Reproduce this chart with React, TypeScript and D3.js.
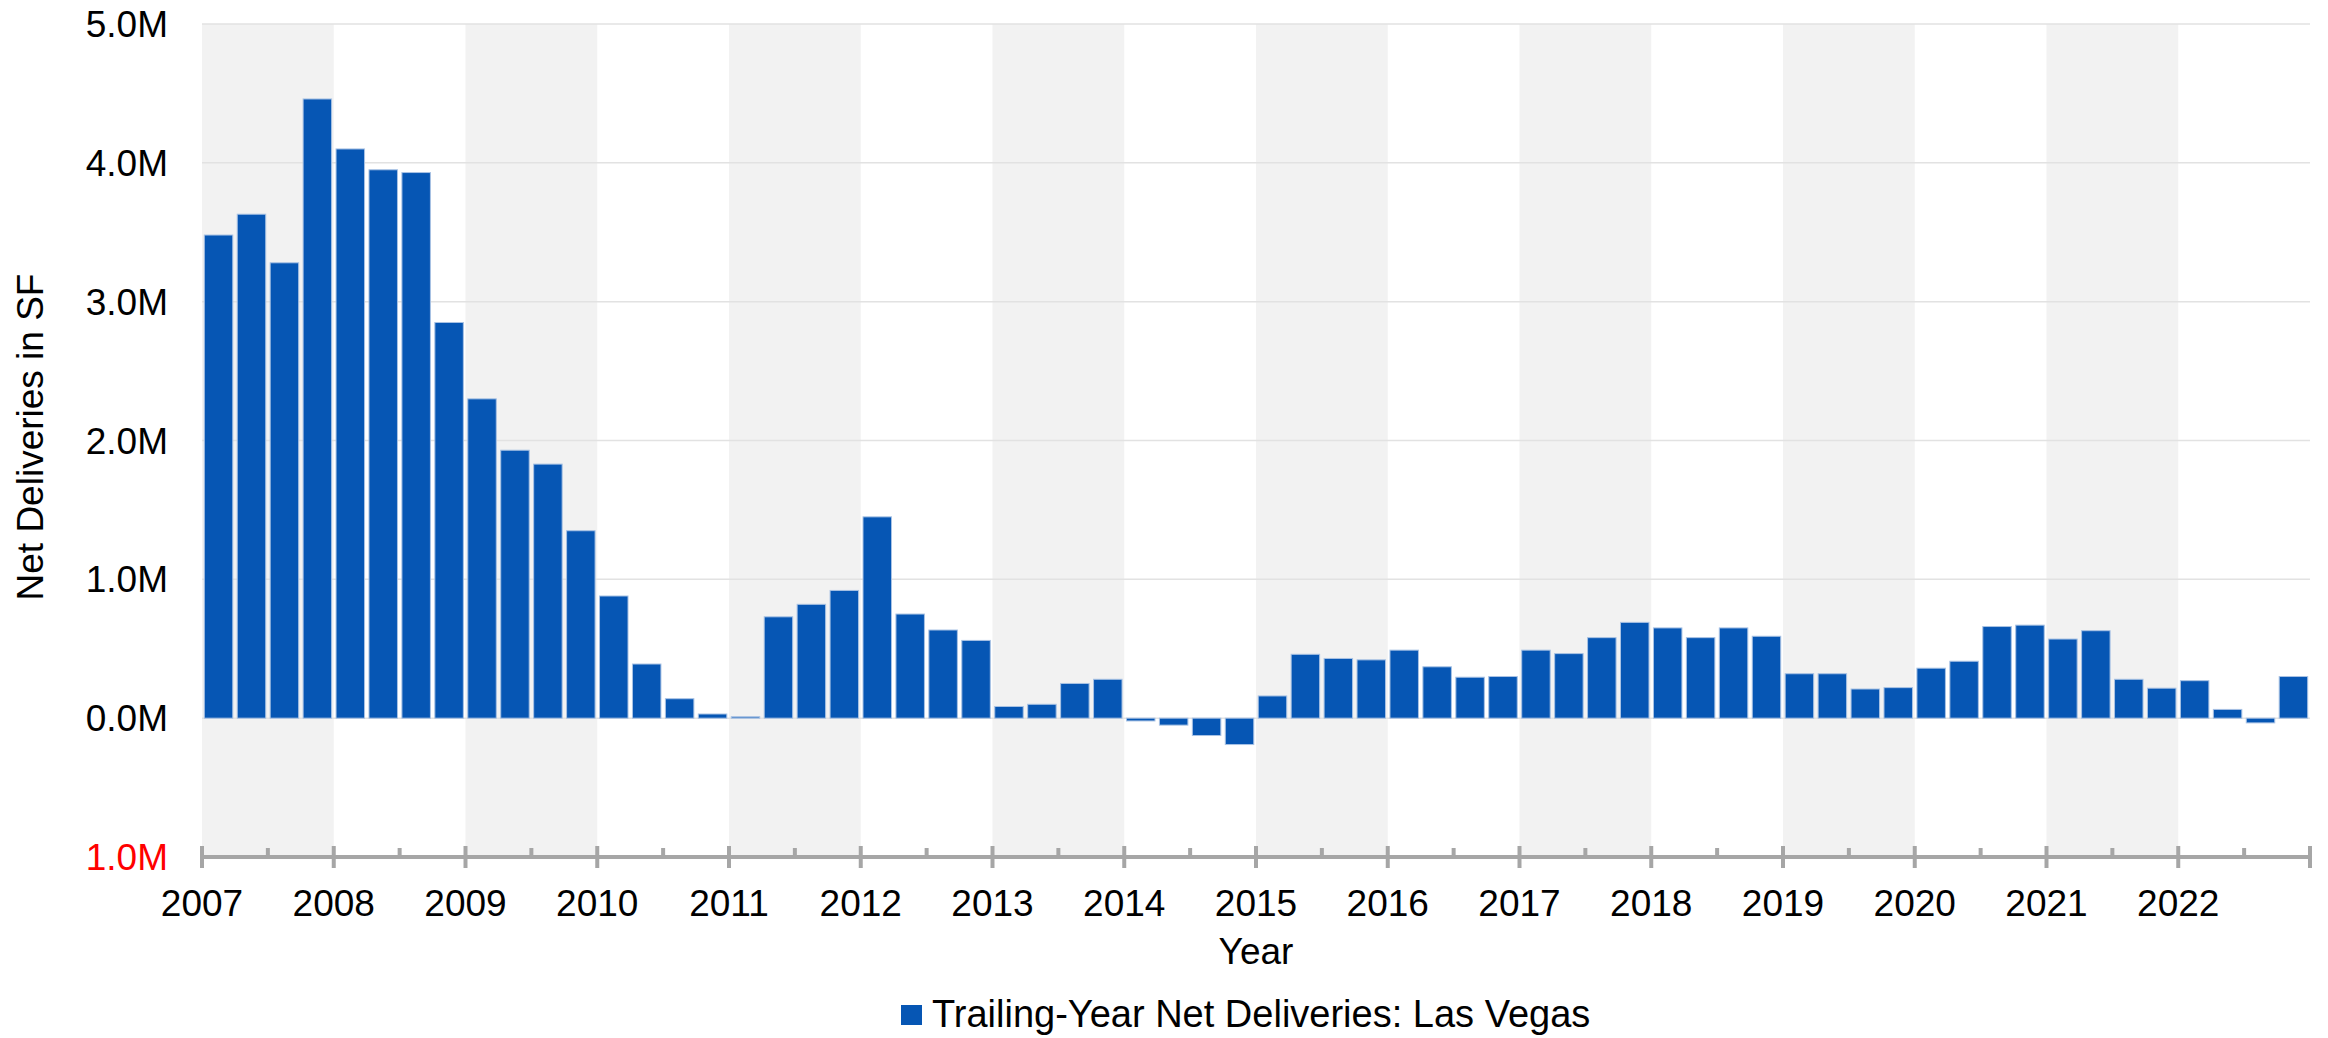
import React, { useEffect, useRef } from "react";
import * as d3 from "d3";

const years = [
  2007, 2008, 2009, 2010, 2011, 2012, 2013, 2014, 2015, 2016, 2017, 2018,
  2019, 2020, 2021, 2022,
];
const quarterNames = ["Q1", "Q2", "Q3", "Q4"];

// trailing-year net deliveries, square feet, one value per quarter
const netDeliveries = [
  3480000, 3630000, 3280000, 4460000,
  4100000, 3950000, 3930000, 2850000,
  2300000, 1930000, 1830000, 1350000,
  880000, 390000, 140000, 30000,
  10000, 730000, 820000, 920000,
  1450000, 750000, 635000, 560000,
  84000, 100000, 250000, 280000,
  -20000, -50000, -125000, -190000,
  160000, 460000, 430000, 420000,
  490000, 370000, 295000, 300000,
  490000, 465000, 580000, 690000,
  650000, 580000, 650000, 590000,
  320000, 320000, 210000, 220000,
  360000, 410000, 660000, 670000,
  570000, 630000, 280000, 216000,
  270000, 63000, -34000, 300000,
];

const yTicks = [-1000000, 0, 1000000, 2000000, 3000000, 4000000, 5000000];
const seriesName = "Trailing-Year Net Deliveries: Las Vegas";

const W = 2328;
const H = 1038;
const FONT = "'Liberation Sans', Arial, sans-serif";

const Chart = () => {
  const ref = useRef(null);

  useEffect(() => {
    const svg = d3.select(ref.current);
    svg.selectAll("*").remove();

    const left = 202;
    const right = 2310;
    const top = 24;
    const bottom = 857;

    const quarters = years.flatMap((yr) => quarterNames.map((q) => `${yr} ${q}`));

    const x = d3
      .scaleBand()
      .domain(quarters)
      .range([left, right])
      .paddingInner(0.135)
      .paddingOuter(0.07);

    const xYear = d3
      .scaleLinear()
      .domain([years[0], years[years.length - 1] + 1])
      .range([left, right]);

    const y = d3.scaleLinear().domain([-1000000, 5000000]).range([bottom, top]);

    // alternating year bands
    svg
      .append("g")
      .selectAll("rect")
      .data(years.filter((_, i) => i % 2 === 0))
      .enter()
      .append("rect")
      .attr("x", (d) => xYear(d))
      .attr("y", top)
      .attr("width", (d) => xYear(d + 1) - xYear(d))
      .attr("height", bottom - top)
      .style("fill", "#f2f2f2");

    // gridlines
    svg
      .append("g")
      .selectAll("line")
      .data(yTicks.filter((t) => t >= 0))
      .enter()
      .append("line")
      .attr("x1", left)
      .attr("x2", right)
      .attr("y1", (d) => y(d))
      .attr("y2", (d) => y(d))
      .style("stroke", "#e2e2e2")
      .style("stroke-width", 1.5);

    // bars
    svg
      .append("g")
      .selectAll("rect")
      .data(netDeliveries)
      .enter()
      .append("rect")
      .attr("x", (d, i) => x(quarters[i]))
      .attr("y", (d) => y(Math.max(0, d)))
      .attr("width", x.bandwidth())
      .attr("height", (d) => Math.abs(y(d) - y(0)))
      .style("fill", "#0656b4")
      .style("stroke", "#a8c2e4")
      .style("stroke-width", 1);

    // y tick labels
    svg
      .append("g")
      .selectAll("text")
      .data(yTicks)
      .enter()
      .append("text")
      .attr("x", 168)
      .attr("y", (d) => y(d) + 13)
      .attr("text-anchor", "end")
      .attr("font-family", FONT)
      .attr("font-size", 37)
      .style("fill", (d) => (d < 0 ? "#ff0000" : "#000000"))
      .text((d) => `${(Math.abs(d) / 1000000).toFixed(1)}M`);

    // x axis line and ticks
    const axis = svg.append("g").style("stroke", "#a6a6a6");
    axis
      .append("line")
      .attr("x1", left)
      .attr("x2", right)
      .attr("y1", bottom)
      .attr("y2", bottom)
      .style("stroke-width", 4);

    const yearTicks = [...years, years[years.length - 1] + 1];
    axis
      .selectAll(".major")
      .data(yearTicks)
      .enter()
      .append("line")
      .attr("class", "major")
      .attr("x1", (d) => xYear(d))
      .attr("x2", (d) => xYear(d))
      .attr("y1", bottom - 11)
      .attr("y2", bottom + 11)
      .style("stroke-width", 4);

    axis
      .selectAll(".minor")
      .data(years)
      .enter()
      .append("line")
      .attr("class", "minor")
      .attr("x1", (d) => xYear(d + 0.5))
      .attr("x2", (d) => xYear(d + 0.5))
      .attr("y1", bottom - 9)
      .attr("y2", bottom)
      .style("stroke-width", 4);

    svg
      .append("g")
      .selectAll("text")
      .data(years)
      .enter()
      .append("text")
      .attr("x", (d) => xYear(d))
      .attr("y", 916)
      .attr("text-anchor", "middle")
      .attr("font-family", FONT)
      .attr("font-size", 37)
      .text((d) => d);

    // axis titles
    svg
      .append("text")
      .attr("x", (left + right) / 2)
      .attr("y", 964)
      .attr("text-anchor", "middle")
      .attr("font-family", FONT)
      .attr("font-size", 37)
      .text("Year");

    svg
      .append("text")
      .attr("transform", "rotate(-90)")
      .attr("x", -437)
      .attr("y", 43)
      .attr("text-anchor", "middle")
      .attr("font-family", FONT)
      .attr("font-size", 37)
      .text("Net Deliveries in SF");

    // legend
    const legend = svg.append("g").attr("transform", "translate(901, 1005)");
    legend
      .append("rect")
      .attr("width", 21)
      .attr("height", 20)
      .style("fill", "#0656b4");
    legend
      .append("text")
      .attr("x", 31)
      .attr("y", 22)
      .attr("font-family", FONT)
      .attr("font-size", 38)
      .text(seriesName);
  }, []);

  return (
    <svg
      ref={ref}
      width={W}
      height={H}
      style={{ position: "absolute", left: 0, top: 0, background: "#fff" }}
    />
  );
};

export default function App() {
  return <Chart />;
}
